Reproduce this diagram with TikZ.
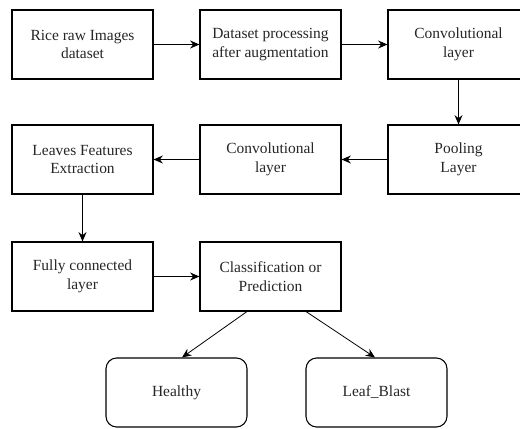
\documentclass[tikz,border=0pt]{standalone}
\usepackage{fontspec}
\setmainfont{Liberation Serif}
\usetikzlibrary{arrows.meta}
\begin{document}
\begin{tikzpicture}[x=0.75pt,y=-0.75pt,
  box/.style={draw=black,line width=0.8pt,minimum width=105.75pt,minimum height=51.75pt,
    align=center,inner sep=0pt,font=\fontsize{11.6pt}{14pt}\selectfont,text=black!85},
  rbox/.style={box,rounded corners=8pt},
  arr/.style={draw=black,line width=0.8pt,-{Stealth[length=7pt,width=6pt]}},
  diagarr/.style={draw=black,line width=0.6pt,-{Stealth[length=7pt,width=6pt]}}]
\useasboundingbox (0,0) rectangle (520,428);
\node[box] (raw) at (82.5,44.5) {Rice raw Images\\dataset};
\node[box] (proc) at (270.5,44.5) {Dataset processing\\after augmentation};
\node[box] (conv1) at (458.5,44.5) {Convolutional\\layer};
\node[box] (pool) at (458.5,159.5) {Pooling\\Layer};
\node[box] (conv2) at (270.5,159.5) {Convolutional\\layer};
\node[box] (leaf) at (82.5,159.5) {Leaves Features\\Extraction};
\node[box] (fc) at (82.5,276.5) {Fully connected\\layer};
\node[box] (cls) at (270.5,276.5) {Classification or\\Prediction};
\node[rbox] (h) at (176.5,392.5) {Healthy};
\node[rbox] (lb) at (376.5,392.5) {Leaf\_Blast};
\draw[arr] (raw) -- (proc);
\draw[arr] (proc) -- (conv1);
\draw[arr] (conv1) -- (pool);
\draw[arr] (pool) -- (conv2);
\draw[arr] (conv2) -- (leaf);
\draw[arr] (leaf) -- (fc);
\draw[arr] (fc) -- (cls);
\draw[diagarr] (cls.south -| 247,0) -- (h.north -| 182,0);
\draw[diagarr] (cls.south -| 306,0) -- (lb.north -| 375,0);
\end{tikzpicture}
\end{document}
